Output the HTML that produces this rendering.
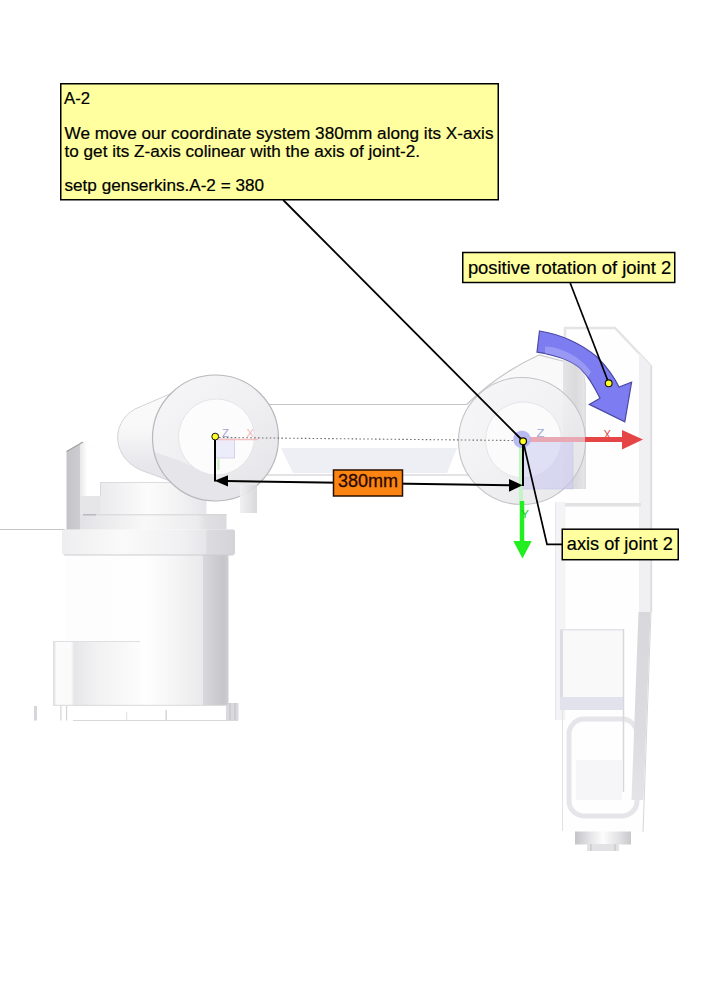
<!DOCTYPE html>
<html><head><meta charset="utf-8">
<style>
html,body{margin:0;padding:0;background:#fff;}
body{width:707px;height:1000px;overflow:hidden;position:relative;}
svg{position:absolute;left:0;top:0;}
text{font-family:"Liberation Sans",sans-serif;}
</style></head>
<body>
<svg width="707" height="1000" viewBox="0 0 707 1000">
<defs>
  <linearGradient id="gCyl" x1="0" x2="1" y1="0" y2="0">
    <stop offset="0" stop-color="#fdfdfd"/>
    <stop offset="0.5" stop-color="#fefefe"/>
    <stop offset="0.7" stop-color="#f3f3f4"/>
    <stop offset="0.84" stop-color="#eaeaec"/>
    <stop offset="0.845" stop-color="#d8d8dc"/>
    <stop offset="0.97" stop-color="#c6c6ca"/>
    <stop offset="1" stop-color="#cfcfd3"/>
  </linearGradient>
  <linearGradient id="gFlange" x1="0" x2="1" y1="0" y2="0">
    <stop offset="0" stop-color="#eeeef0"/>
    <stop offset="0.35" stop-color="#fafafa"/>
    <stop offset="0.7" stop-color="#f0f0f2"/>
    <stop offset="0.83" stop-color="#e6e6e8"/>
    <stop offset="0.84" stop-color="#dcdce0"/>
    <stop offset="1" stop-color="#d4d4d8"/>
  </linearGradient>
  <linearGradient id="gBand" x1="0" x2="1" y1="0" y2="0">
    <stop offset="0" stop-color="#e2e2e6"/>
    <stop offset="0.15" stop-color="#eaeaec"/>
    <stop offset="0.45" stop-color="#f8f8f8"/>
    <stop offset="0.8" stop-color="#ececee"/>
    <stop offset="0.86" stop-color="#e0e0e3"/>
    <stop offset="1" stop-color="#dadade"/>
  </linearGradient>
  <linearGradient id="gUpCyl" x1="0" x2="1" y1="0" y2="0">
    <stop offset="0" stop-color="#eaeaed"/>
    <stop offset="0.45" stop-color="#fcfcfc"/>
    <stop offset="0.8" stop-color="#f0f0f2"/>
    <stop offset="1" stop-color="#e6e6ea"/>
  </linearGradient>
  <linearGradient id="gBox" x1="0" x2="1" y1="0" y2="0">
    <stop offset="0" stop-color="#dadadc"/>
    <stop offset="0.04" stop-color="#fbfbfb"/>
    <stop offset="0.2" stop-color="#fbfbfb"/>
    <stop offset="0.24" stop-color="#e6e6e8"/>
    <stop offset="0.5" stop-color="#f2f2f3"/>
    <stop offset="1" stop-color="#fdfdfd"/>
  </linearGradient>
  <linearGradient id="gPlate" x1="0" x2="1" y1="0" y2="0">
    <stop offset="0" stop-color="#c4c4c8"/>
    <stop offset="1" stop-color="#d0d0d4"/>
  </linearGradient>
  <linearGradient id="gPlateSide" x1="0" x2="1" y1="0" y2="0">
    <stop offset="0" stop-color="#e8e8ea"/>
    <stop offset="0.35" stop-color="#fefefe"/>
    <stop offset="1" stop-color="#ffffff"/>
  </linearGradient>
  <linearGradient id="gJoint" x1="0.3" x2="0.55" y1="0.2" y2="1">
    <stop offset="0" stop-color="#f5f5f7"/>
    <stop offset="0.55" stop-color="#f0f0f2"/>
    <stop offset="0.8" stop-color="#eaeaed"/>
    <stop offset="1" stop-color="#e6e6ea"/>
  </linearGradient>
  <linearGradient id="gCone" x1="0" x2="0" y1="0" y2="1">
    <stop offset="0" stop-color="#fbfbfb"/>
    <stop offset="0.4" stop-color="#f8f8f9"/>
    <stop offset="0.55" stop-color="#f0f0f2"/>
    <stop offset="0.7" stop-color="#e8e8ec"/>
    <stop offset="1" stop-color="#e2e2e6"/>
  </linearGradient>
  <linearGradient id="gWrist" x1="0" x2="1" y1="0" y2="0">
    <stop offset="0" stop-color="#c4c4c8"/>
    <stop offset="0.3" stop-color="#e8e8ea"/>
    <stop offset="0.5" stop-color="#fcfcfc"/>
    <stop offset="0.8" stop-color="#e0e0e2"/>
    <stop offset="1" stop-color="#c8c8cc"/>
  </linearGradient>
  <linearGradient id="gRCyl" x1="0" x2="1" y1="0" y2="0">
    <stop offset="0" stop-color="#f6f6f7"/>
    <stop offset="0.6" stop-color="#fafafa"/>
    <stop offset="0.62" stop-color="#e2e2e4"/>
    <stop offset="0.9" stop-color="#dadadc"/>
    <stop offset="1" stop-color="#e6e6e8"/>
  </linearGradient>
  <linearGradient id="gRBand" x1="0" x2="1" y1="0" y2="0">
    <stop offset="0" stop-color="#e4e4e6"/>
    <stop offset="0.6" stop-color="#dadadc"/>
    <stop offset="1" stop-color="#e6e6e8"/>
  </linearGradient>
  <linearGradient id="gRStrip" x1="0" x2="0" y1="0" y2="1">
    <stop offset="0" stop-color="#d8d8dc"/>
    <stop offset="0.6" stop-color="#dcdce0"/>
    <stop offset="1" stop-color="#e4e4e8"/>
  </linearGradient>
  <linearGradient id="gRing" x1="0.1" x2="0.9" y1="0" y2="1">
    <stop offset="0" stop-color="#f6f6f8"/>
    <stop offset="0.45" stop-color="#f0f0f2"/>
    <stop offset="1" stop-color="#e4e4e8"/>
  </linearGradient>
  <linearGradient id="gSmall" x1="0" x2="1" y1="0" y2="0">
    <stop offset="0" stop-color="#f0f0f2"/>
    <stop offset="1" stop-color="#d4d4d8"/>
  </linearGradient>
</defs>

<!-- ================= LEFT BASE ================= -->
<line x1="0" y1="529.5" x2="65" y2="529.5" stroke="#c6c6c6" stroke-width="1"/>
<!-- feet -->
<g fill="#d6d6da">
  <rect x="34" y="706" width="3" height="14.5"/>
  <rect x="60.3" y="706" width="1.2" height="14.5"/>
  <rect x="66" y="706" width="1.2" height="14.5"/>
  <rect x="165.5" y="710" width="1.5" height="10"/>
  <rect x="126" y="712" width="1.2" height="8" fill="#e4e4e6"/>
  <rect x="226" y="703" width="12.5" height="17" fill="#dadade"/>
</g>
<line x1="230" y1="703" x2="230" y2="720" stroke="#c0c0c4"/>
<line x1="235" y1="703" x2="235" y2="720" stroke="#c0c0c4"/>
<line x1="73" y1="720.5" x2="238" y2="720.5" stroke="#d8d8da" stroke-width="1.2"/>
<!-- main cylinder -->
<rect x="66" y="555" width="162.5" height="150.5" fill="url(#gCyl)"/>
<!-- lower box -->
<rect x="53" y="641" width="89" height="64.5" fill="url(#gBox)"/>
<line x1="53" y1="641.5" x2="140" y2="641.5" stroke="#e0e0e2"/>
<line x1="53" y1="705.3" x2="228" y2="705.3" stroke="#dadadc"/>
<!-- flange -->
<rect x="62" y="529.5" width="173" height="25.5" rx="2" fill="url(#gFlange)"/>
<line x1="64" y1="555" x2="233" y2="555" stroke="#cdcdd1" stroke-width="1"/>
<!-- band -->
<rect x="80" y="514" width="146.5" height="15.5" fill="url(#gBand)"/>
<rect x="80" y="496" width="21" height="18.5" fill="#e6e6e9"/>
<!-- upper base cylinder -->
<rect x="100" y="482" width="106.5" height="32" fill="url(#gUpCyl)"/>
<line x1="100" y1="482.5" x2="206" y2="482.5" stroke="#dcdce0"/>
<line x1="100.5" y1="482" x2="100.5" y2="496" stroke="#d8d8dc"/>
<line x1="83" y1="514.8" x2="226" y2="514.8" stroke="#d4d4d8" stroke-width="1"/>
<line x1="83" y1="514.8" x2="96" y2="514.8" stroke="#b4b4b8" stroke-width="1.2"/>
<!-- side plate -->
<polygon points="80,442.5 100,442.5 100,496 80,496" fill="url(#gPlateSide)"/>
<polygon points="66.5,451.5 83,442 80,444 80,529.5 66.5,529.5" fill="url(#gPlate)"/>
<line x1="66.5" y1="451.5" x2="83" y2="442" stroke="#a0a0a4" stroke-width="1.2"/>

<!-- ================= UPPER ARM ================= -->
<line x1="262" y1="404.5" x2="470" y2="404.5" stroke="#c4c4c8" stroke-width="1"/>
<line x1="262" y1="475" x2="470" y2="475" stroke="#c8c8cc" stroke-width="1"/>
<polygon points="281,448 457,448 447,473 293,473" fill="#eeeef5"/>


<!-- ================= LEFT JOINT ================= -->
<clipPath id="cpL2"><circle cx="215.5" cy="438" r="63"/></clipPath><clipPath id="cpL"><path d="M200,381 L135,409 C122,416 116,430 118,442 C120,456 130,466 143,471 L165,479 L210,499 Z"/><circle cx="215.5" cy="438" r="63"/></clipPath>
<path d="M200,381 L135,409 C122,416 116,430 118,442 C120,456 130,466 143,471 L165,479 L210,499 Z" fill="url(#gCone)" stroke="#d4d4d8" stroke-width="1"/>
<circle cx="215.5" cy="438" r="63" fill="url(#gRing)"/>
<polygon points="145,449 153,451.5 180,461 199,469 214,477 290,510 145,510" fill="#e6e6ea" clip-path="url(#cpL2)"/>
<circle cx="215.5" cy="438" r="63" fill="none" stroke="#b8b8bc" stroke-width="1.2"/>
<circle cx="216.5" cy="437" r="38" fill="#fcfcfc" stroke="#e6e6ea" stroke-width="1"/>
<rect x="240" y="485" width="17" height="28" fill="url(#gSmall)" opacity="0.9"/>

<!-- ================= FOREARM ================= -->
<path d="M565,328 L615,328 L651,366 L651,612 L643,832 L563,832 L563,720 L555,720 L555,500 L565,500 Z" fill="#fefefe"/>
<path d="M565,355 L565,328 L615,328 L651,366 L651,612" fill="none" stroke="#e4e4e6" stroke-width="2.5"/>
<polygon points="639,353 651,366 651,612 639,612" fill="#f0f0f2"/>
<polyline points="651,366 651,612 643,832" fill="none" stroke="#d6d6d8" stroke-width="1"/>
<rect x="555" y="502" width="10.5" height="218" fill="#f4f4f6"/>
<line x1="555.5" y1="502" x2="555.5" y2="720" stroke="#e8e8ea" stroke-width="1"/>
<line x1="562.5" y1="710" x2="562.5" y2="831" stroke="#e2e2e4" stroke-width="1"/>
<rect x="565" y="503" width="76" height="3.5" fill="#e2e2e4"/>
<rect x="569" y="719" width="68" height="97" rx="15" fill="none" stroke="#e6e6ea" stroke-width="5"/>
<rect x="576" y="760" width="46" height="40" fill="#f6f6f8"/>
<polygon points="638.5,612 650.5,612 643.5,800 631.5,800" fill="url(#gRStrip)"/>
<rect x="560" y="629" width="64" height="81" fill="#f9f9fa"/>
<rect x="560" y="629" width="3" height="81" fill="#dcdce2"/>
<line x1="560" y1="629.8" x2="624" y2="629.8" stroke="#e4e4e8" stroke-width="1.5"/>
<rect x="560" y="697" width="64" height="13" fill="#e2e2ec"/>
<line x1="623.5" y1="629" x2="623.5" y2="792" stroke="#d8d8dc" stroke-width="1.5"/>
<rect x="575" y="831.5" width="56" height="13" fill="url(#gWrist)"/>
<rect x="587" y="844" width="32" height="7" fill="#e2e2e4"/>
<line x1="591" y1="844" x2="591" y2="851" stroke="#c0c0c4"/>
<line x1="615" y1="844" x2="615" y2="851" stroke="#c0c0c4"/>

<!-- ================= RIGHT JOINT ================= -->
<path d="M467,404 C485,387 510,368 539,355 L574,364 Q585,370 585,384 L585,489 L520,489 Z" fill="#f9f9fa"/>
<path d="M467,404 C485,387 510,368 539,355 L574,364 Q585,370 585,384 L585,489" fill="none" stroke="#c8c8cc" stroke-width="1.2"/>
<path d="M563,489 L563,358 L584.5,366 L584.5,489 Z" fill="url(#gRBand)"/>
<circle cx="522" cy="441" r="63.5" fill="url(#gRing)" stroke="#c4c4c8" stroke-width="1.1" fill-opacity="0.85"/>
<circle cx="523.5" cy="440" r="38" fill="#fcfcfc" stroke="#e6e6ea" stroke-width="1" fill-opacity="0.9"/>
<rect x="522" y="441" width="51" height="48" fill="#c4c4f2" opacity="0.5" stroke="#9c9cd8" stroke-width="0.8" stroke-opacity="0.6"/>

<!-- ================= AXES ================= -->
<!-- dotted line -->
<line x1="219" y1="437.5" x2="514" y2="440.5" stroke="#707070" stroke-width="1.1" stroke-dasharray="1.6,2.3"/>
<!-- left small triad -->
<rect x="215.5" y="439" width="19" height="19" fill="#ececfa" stroke="#cdcde0" stroke-width="0.8"/>
<line x1="218" y1="439.5" x2="258" y2="439.5" stroke="#f4c0c0" stroke-width="1.5"/>
<text x="222" y="436.6" font-size="10" fill="#a4a4d0" textLength="7" lengthAdjust="spacingAndGlyphs">Z</text>
<text x="246.5" y="436.8" font-size="10" fill="#f4b4b4" textLength="7.6" lengthAdjust="spacingAndGlyphs">X</text>
<line x1="218.5" y1="459" x2="218.5" y2="470" stroke="#c4f0c4" stroke-width="2"/>

<!-- right triad -->
<line x1="584" y1="439.5" x2="624" y2="439.5" stroke="#e54545" stroke-width="4.8"/>
<line x1="530" y1="439.5" x2="585" y2="439.5" stroke="#e8a8b4" stroke-width="4.8"/>
<polygon points="622,430 643,439.5 622,449.5" fill="#e54545"/>
<text x="603.6" y="438.5" font-size="12" fill="#e05050" textLength="7.5" lengthAdjust="spacingAndGlyphs">X</text>
<text x="536.5" y="437.4" font-size="11.5" fill="#a0a8d8" textLength="8" lengthAdjust="spacingAndGlyphs">Z</text>
<line x1="521" y1="445" x2="521" y2="505" stroke="#c4f4c4" stroke-width="4"/>
<line x1="522" y1="501" x2="522" y2="543" stroke="#22ee22" stroke-width="4.5"/>
<polygon points="513.3,541 531.7,541 522.5,558.5" fill="#22ee22"/>
<text x="521" y="517.5" font-size="11" fill="#18c818" textLength="8" lengthAdjust="spacingAndGlyphs">Y</text>
<circle cx="522" cy="439.3" r="8.8" fill="#a4a4f0" opacity="0.75"/>

<!-- blue rotation arrow -->
<path d="M539.5,331 C560,334 582,344 597,357 C607,367 614,377 619,387 L631.6,382.2 L624.8,421.8 L589.3,404.4 L600,398.2 C595,388 589,377 581,369 C573,361.5 558,355.5 537,352.2 Z" fill="#7d7df1" stroke="#4a4aa6" stroke-width="1.2"/>
<path d="M545,353.2 C558,355.5 573,361.5 581,369 C584,372 586,374.5 588,377 L591,372 C583,360 570,352 556,348 C552,347 548,346.5 545,346.5 Z" fill="#a4a4f6" opacity="0.7"/>

<!-- ================= DIMENSION ================= -->
<line x1="215" y1="437" x2="215" y2="481.5" stroke="#000" stroke-width="2"/>
<line x1="523" y1="441" x2="523" y2="486" stroke="#000" stroke-width="2"/>
<line x1="226" y1="481" x2="512" y2="485.2" stroke="#000" stroke-width="2"/>
<polygon points="214.5,480.8 228,475.3 228,486.6" fill="#000"/>
<polygon points="522.5,485.2 509,479.1 509,491.7" fill="#000"/>
<rect x="333.5" y="470" width="69" height="26" fill="#fb8412" stroke="#2a1000" stroke-width="1.5"/>
<text x="338" y="487.3" font-size="18" fill="#2a0800" stroke="#2a0800" stroke-width="0.3" textLength="60" lengthAdjust="spacingAndGlyphs">380mm</text>

<!-- ================= LEADERS ================= -->
<line x1="283.2" y1="200" x2="523" y2="441" stroke="#000" stroke-width="1.8"/>
<polyline points="523,441 547,544.3 562,544.3" fill="none" stroke="#000" stroke-width="1.7"/>
<line x1="570.2" y1="283" x2="608.7" y2="383" stroke="#000" stroke-width="1.7"/>

<!-- yellow dots -->
<circle cx="215.2" cy="436.6" r="3.4" fill="#ffff22" stroke="#111" stroke-width="1"/>
<circle cx="523.1" cy="441.2" r="3.4" fill="#ffff22" stroke="#111" stroke-width="1.2"/>
<circle cx="608.7" cy="383.3" r="3.4" fill="#ffff22" stroke="#111" stroke-width="1.1"/>

<!-- ================= CALLOUTS ================= -->
<rect x="60.75" y="83.75" width="437.5" height="116" fill="#ffffa0" stroke="#000" stroke-width="1.5"/>
<g font-size="17.1" fill="#000" stroke="#000" stroke-width="0.2">
  <text x="64" y="103.8" textLength="26" lengthAdjust="spacingAndGlyphs">A-2</text>
  <text x="64.5" y="138.7" textLength="429" lengthAdjust="spacingAndGlyphs">We move our coordinate system 380mm along its X-axis</text>
  <text x="64.5" y="156.7" textLength="355.5" lengthAdjust="spacingAndGlyphs">to get its Z-axis colinear with the axis of joint-2.</text>
  <text x="64.5" y="191.4" textLength="199.5" lengthAdjust="spacingAndGlyphs">setp genserkins.A-2 = 380</text>
</g>
<rect x="462.75" y="252.5" width="212" height="30" fill="#ffffa0" stroke="#000" stroke-width="1.5"/>
<text x="467.9" y="273.6" font-size="18.3" stroke="#000" stroke-width="0.2" textLength="203.4" lengthAdjust="spacingAndGlyphs">positive rotation of joint 2</text>
<rect x="562.25" y="529.2" width="116" height="30.5" fill="#ffffa0" stroke="#000" stroke-width="1.5"/>
<text x="566.8" y="550.4" font-size="18.2" stroke="#000" stroke-width="0.2" textLength="106" lengthAdjust="spacingAndGlyphs">axis of joint 2</text>
</svg>
</body></html>
